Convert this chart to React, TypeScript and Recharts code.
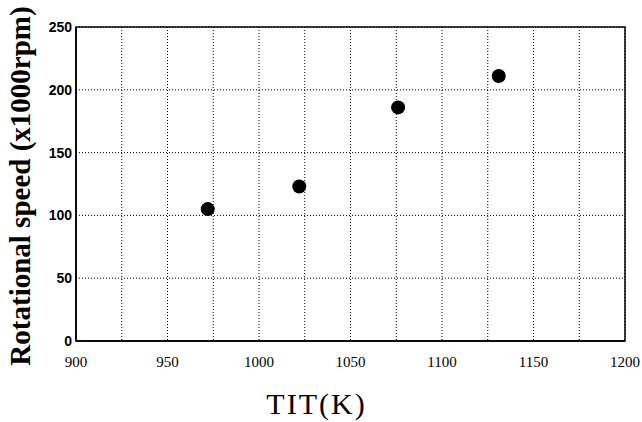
import { CartesianGrid, Label, ReferenceArea, Scatter, ScatterChart, XAxis, YAxis } from "recharts";

const titValues = [972, 1022, 1076, 1131];
const speedValues = [105, 123, 186, 211];

const xTicks = [900, 925, 950, 975, 1000, 1025, 1050, 1075, 1100, 1125, 1150, 1175, 1200];
const xTickLabels = ["900", "", "950", "", "1000", "", "1050", "", "1100", "", "1150", "", "1200"];
const yTicks = [0, 50, 100, 150, 200, 250];

const serif = "'Liberation Serif', 'Times New Roman', serif";

export default function App() {
    const points = titValues.map((tit, i) => ({ tit: tit, speed: speedValues[i] }));

    return (
        <div style={{ position: "absolute", left: 0, top: 0, background: "#fff" }}>
            <ScatterChart width={642} height={422} margin={{ top: 27, right: 17, left: 0, bottom: 0 }}>
                <CartesianGrid stroke="#000" strokeDasharray="1 2" strokeWidth={1} />
                <XAxis
                    type="number"
                    dataKey="tit"
                    domain={[900, 1200]}
                    ticks={xTicks}
                    interval={0}
                    tickFormatter={(v, i) => xTickLabels[i]}
                    height={81}
                    tickLine={false}
                    tickSize={6}
                    tickMargin={9}
                    axisLine={{ stroke: "#000", strokeWidth: 1.5 }}
                    tick={{ fill: "#000", fontSize: 15, fontFamily: serif }}
                >
                    <Label
                        value="TIT(K)"
                        position="insideBottom"
                        offset={8}
                        dx={-34}
                        style={{ fontFamily: serif, fontSize: 30, letterSpacing: 2, fill: "#000" }}
                    />
                </XAxis>
                <YAxis
                    type="number"
                    dataKey="speed"
                    domain={[0, 250]}
                    ticks={yTicks}
                    interval={0}
                    width={76}
                    tickLine={false}
                    tickSize={0}
                    tickMargin={4}
                    axisLine={{ stroke: "#000", strokeWidth: 1.5 }}
                    tick={{ fill: "#000", fontSize: 14, fontWeight: "bold", fontFamily: "'Liberation Sans', Arial, sans-serif" }}
                >
                    <Label
                        value="Rotational speed (x1000rpm)"
                        angle={-90}
                        position="insideLeft"
                        offset={20}
                        dy={2}
                        style={{ textAnchor: "middle", fontFamily: serif, fontWeight: "bold", fontSize: 29, fill: "#000" }}
                    />
                </YAxis>
                <ReferenceArea x1={900} x2={1200} y1={0} y2={250} fill="none" stroke="#000" strokeWidth={1.5} />
                <Scatter
                    data={points}
                    isAnimationActive={false}
                    shape={(p: any) => <circle cx={p.cx} cy={p.cy} r={7} fill="#000" />}
                />
            </ScatterChart>
        </div>
    );
}
